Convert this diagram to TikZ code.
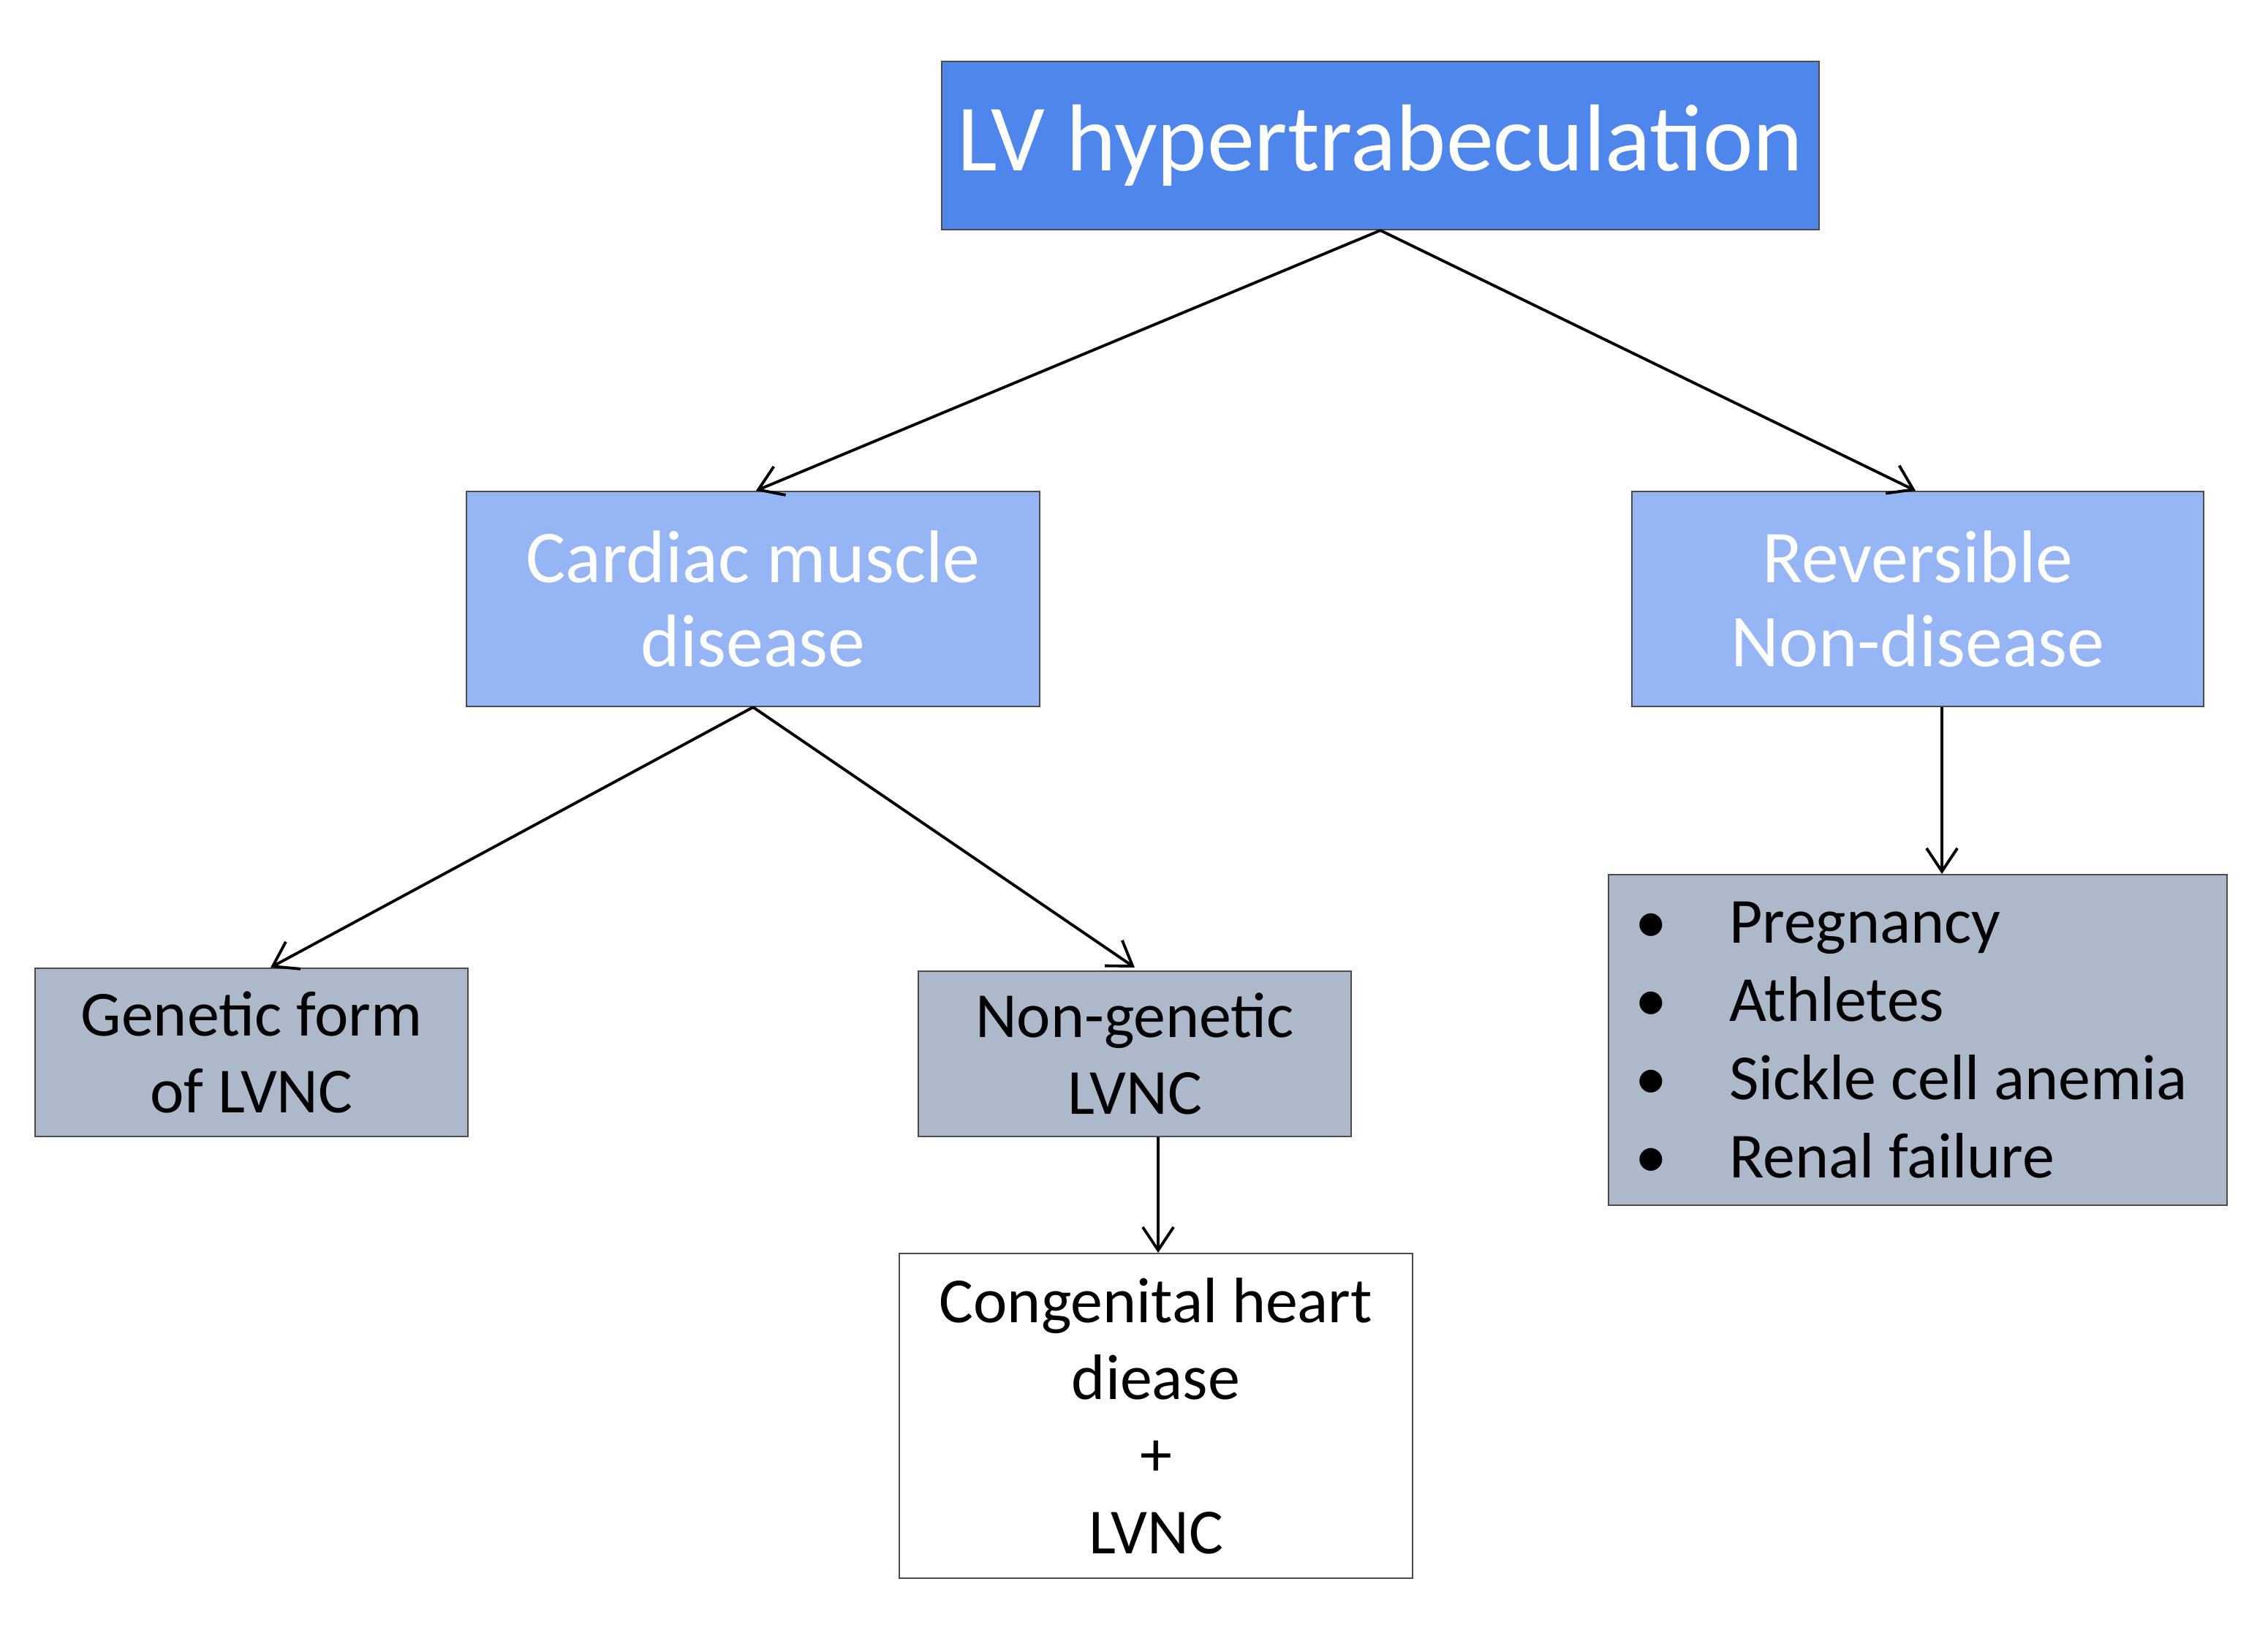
\documentclass[tikz,border=0pt]{standalone}
\usepackage{fontspec}
\setmainfont{Carlito}
\usetikzlibrary{arrows.meta}
\definecolor{topblue}{HTML}{4F86EC}
\definecolor{lblue}{HTML}{95B5F5}
\definecolor{gbox}{HTML}{ADB9CA}
\begin{document}
\begin{tikzpicture}[x=0.02cm,y=-0.02cm,
  box/.style={draw=black!70,line width=0.6pt,inner sep=0pt,align=center},
  arr/.style={line width=1.1pt,-{Straight Barb[length=9pt,width=12pt,line width=1.1pt]}},
  mid/.style={box,fill=lblue,text=white,font=\fontsize{29}{33}\selectfont},
  low/.style={box,fill=gbox,font=\fontsize{25}{30}\selectfont}]
\useasboundingbox (0,0) rectangle (1551,1111);
\node[box,fill=topblue,text=white,minimum width=12cm,minimum height=2.3cm,font=\fontsize{37}{40}\selectfont] (top) at (944,99.5) {LV hypertrabeculation};
\node[mid,minimum width=7.84cm,minimum height=2.94cm] (card) at (515,409.5) {Cardiac muscle\\disease};
\node[mid,minimum width=7.82cm,minimum height=2.94cm] (rev) at (1311.5,409.5) {Reversible\\Non-disease};
\node[low,minimum width=5.92cm,minimum height=2.3cm] (gen) at (172,719.5) {Genetic form\\of LVNC};
\node[low,minimum width=5.92cm,minimum height=2.26cm] (ngen) at (776,720.5) {Non-genetic\\LVNC};
\node[box,fill=white,minimum width=7.02cm,minimum height=4.44cm,font=\fontsize{25}{30}\selectfont] (cong) at (790.5,968) {Congenital heart\\diease\\+\\LVNC};
\node[low,minimum width=8.46cm,minimum height=4.52cm] (list) at (1311.5,711) {};
\node[anchor=west,align=left,font=\fontsize{25}{30.4}\selectfont] (items) at (1112,711) {\textbullet\hspace{0.85cm}Pregnancy\\\textbullet\hspace{0.85cm}Athletes\\\textbullet\hspace{0.85cm}Sickle cell anemia\\\textbullet\hspace{0.85cm}Renal failure};
\draw[arr] (top.south) -- ([xshift=0.04cm]card.north);
\draw[arr] (top.south) -- ([xshift=-0.03cm]rev.north);
\draw[arr] (card.south) -- ([xshift=0.26cm]gen.north);
\draw[arr] (card.south) -- ([yshift=0.04cm]ngen.north);
\draw[arr] ([xshift=0.33cm]rev.south) -- ([xshift=0.33cm]list.north);
\draw[arr] ([xshift=0.32cm]ngen.south) -- ([xshift=0.03cm]cong.north);
\end{tikzpicture}
\end{document}
